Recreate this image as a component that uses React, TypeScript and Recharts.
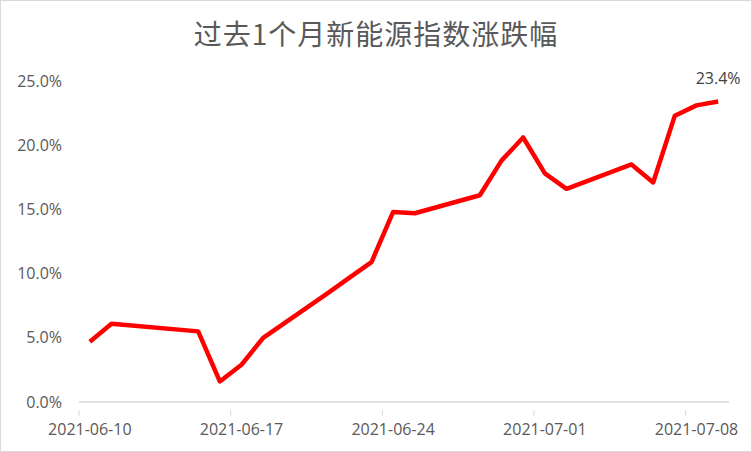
import React from "react";
import { LineChart, Line, XAxis, YAxis, LabelList } from "recharts";

const title = "过去1个月新能源指数涨跌幅";

// trading days (06-14 was a holiday)
const dates = [
  "2021-06-10", "2021-06-11", "2021-06-15", "2021-06-16", "2021-06-17",
  "2021-06-18", "2021-06-21", "2021-06-22", "2021-06-23", "2021-06-24",
  "2021-06-25", "2021-06-28", "2021-06-29", "2021-06-30", "2021-07-01",
  "2021-07-02", "2021-07-05", "2021-07-06", "2021-07-07", "2021-07-08",
  "2021-07-09",
];
const changes = [
  4.7, 6.1, 5.5, 1.6, 2.9, 5.0, 8.5, 9.7, 10.9, 14.8, 14.7, 16.1, 18.8, 20.6,
  17.8, 16.6, 18.5, 17.1, 22.3, 23.1, 23.4,
];
const tickDates = ["2021-06-10", "2021-06-17", "2021-06-24", "2021-07-01", "2021-07-08"];
const yTicks = [0, 5, 10, 15, 20, 25];

const START = Date.parse("2021-06-10");
const DAY = 86400000;
const SPAN_DAYS = 30;
const dayPos = (d: string) => (Date.parse(d) - START) / DAY + 0.5;

const data = dates.map((d, i) => ({ date: d, x: dayPos(d), value: changes[i] }));

const WIDTH = 750;
const HEIGHT = 450;
const MARGIN = { top: 80, right: 22, left: 0, bottom: 0 };
const Y_WIDTH = 78;
const PLOT_W = WIDTH - MARGIN.right - MARGIN.left - Y_WIDTH;
const HALF_DAY = PLOT_W / SPAN_DAYS / 2;

const labelFont = "'Open Sans', 'Liberation Sans', sans-serif";

const DateTick = (props: any) => {
  const { x, y, payload } = props;
  const label = new Date(START + (payload.value - 0.5) * DAY).toISOString().slice(0, 10);
  return (
    <g>
      <line x1={x - HALF_DAY} x2={x - HALF_DAY} y1={y} y2={y + 6} stroke="#d9d9d9" strokeWidth={1} />
      <text
        x={x}
        y={y + 25}
        textAnchor="middle"
        fill="#595959"
        fontSize={16}
        fontFamily={labelFont}
      >
        {label}
      </text>
    </g>
  );
};

const LastLabel = (props: any) => {
  const { x, y, index, value } = props;
  if (index !== changes.length - 1) return null;
  return (
    <text
      x={x}
      y={y - 18}
      textAnchor="middle"
      fill="#404040"
      fontSize={16}
      fontFamily={labelFont}
    >
      {`${value.toFixed(1)}%`}
    </text>
  );
};

export default function App() {
  return (
    <div
      style={{
        position: "absolute",
        left: 0,
        top: 0,
        width: WIDTH,
        height: HEIGHT,
        border: "1px solid #d9d9d9",
        background: "#fff",
      }}
    >
      <div
        style={{
          position: "absolute",
          left: 0,
          top: 14,
          width: WIDTH,
          textAlign: "center",
          fontFamily: "'Noto Sans CJK SC', sans-serif",
          fontSize: 28,
          letterSpacing: 1,
          color: "#595959",
          lineHeight: "36px",
        }}
      >
        {title}
      </div>
      <LineChart width={WIDTH} height={HEIGHT} data={data} margin={MARGIN}>
        <XAxis
          dataKey="x"
          type="number"
          domain={[0, SPAN_DAYS]}
          ticks={tickDates.map(dayPos)}
          interval={0}
          height={49}
          axisLine={{ stroke: "#d9d9d9", strokeWidth: 1.5 }}
          tickLine={false}
          tick={<DateTick />}
        />
        <YAxis
          type="number"
          domain={[0, 25]}
          ticks={yTicks}
          width={Y_WIDTH}
          axisLine={false}
          tickLine={false}
          tickSize={0}
          tickMargin={17}
          tickFormatter={(v: number) => `${v.toFixed(1)}%`}
          tick={{ fill: "#595959", fontSize: 16, fontFamily: labelFont }}
        />
        <Line
          dataKey="value"
          stroke="#ff0000"
          strokeWidth={4.5}
          strokeLinejoin="round"
          dot={false}
          activeDot={false}
          isAnimationActive={false}
        >
          <LabelList dataKey="value" content={<LastLabel />} />
        </Line>
      </LineChart>
    </div>
  );
}
